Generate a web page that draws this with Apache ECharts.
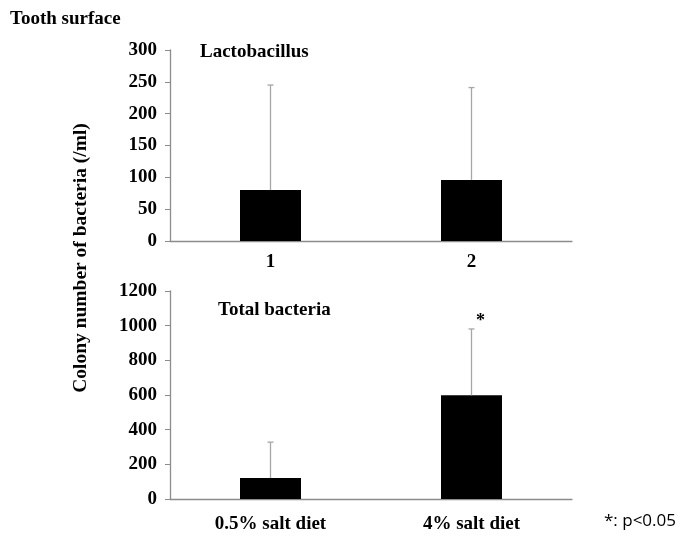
<!DOCTYPE html>
<html>
<head>
<meta charset="utf-8">
<script src="https://cdn.jsdelivr.net/npm/echarts@6/dist/echarts.min.js"></script>
<style>html,body{margin:0;padding:0;background:#fff}#c{width:681px;height:540px}</style>
</head>
<body>
<div id="c"></div>
<script>
// ---- data ----
var topCategories = ['1', '2'];
var topMeans = [80, 96];
var topSD = [165, 145];
var topTicks = [0, 50, 100, 150, 200, 250, 300];

var bottomCategories = ['0.5% salt diet', '4% salt diet'];
var bottomMeans = [121, 598];
var bottomSD = [207, 383];
var bottomSig = ['', '*'];
var bottomTicks = [0, 200, 400, 600, 800, 1000, 1200];

var topTitle = 'Lactobacillus';
var bottomTitle = 'Total bacteria';
var figTitle = 'Tooth surface';
var yName = 'Colony number of bacteria (/ml)';
var note = '*: p<0.05';

// ---- styles ----
var serif = '"Liberation Serif", "Times New Roman", serif';
var axisGray = '#8c8c8c';
var errGray = '#a6a6a6';

function errorRender(means, sds, sig) {
  return function (params, api) {
    var i = api.value(0);
    var m = means[i], s = sds[i];
    var p0 = api.coord([i, m]);
    var p1 = api.coord([i, m + s]);
    var children = [
      { type: 'line', shape: { x1: p0[0], y1: p0[1], x2: p1[0], y2: p1[1] }, style: { stroke: errGray, lineWidth: 1.3 } },
      { type: 'line', shape: { x1: p1[0] - 3, y1: p1[1], x2: p1[0] + 3, y2: p1[1] }, style: { stroke: errGray, lineWidth: 1.3 } }
    ];
    if (sig && sig[i]) {
      children.push({ type: 'text', x: p1[0] + 9, y: p1[1] - 8, style: { text: sig[i], font: 'bold 18px ' + serif, fill: '#000', align: 'center', verticalAlign: 'middle' } });
    }
    return { type: 'group', children: children };
  };
}

function yAxisCfg(idx, ticks) {
  return {
    type: 'value', gridIndex: idx, min: ticks[0], max: ticks[ticks.length - 1], interval: ticks[1] - ticks[0],
    axisLine: { show: true, lineStyle: { color: axisGray, width: 1.3 } },
    axisTick: { show: true, length: 5, lineStyle: { color: axisGray } },
    splitLine: { show: false },
    axisLabel: { color: '#000', fontFamily: serif, fontWeight: 'bold', fontSize: 19, margin: 13, formatter: function (v) { return String(v); } }
  };
}
function xAxisCfg(idx, cats, margin) {
  return {
    type: 'category', gridIndex: idx, data: cats,
    axisLine: { show: true, lineStyle: { color: axisGray, width: 1.3 } },
    axisTick: { show: false },
    axisLabel: { color: '#000', fontFamily: serif, fontWeight: 'bold', fontSize: 19, margin: margin }
  };
}

var chart = echarts.init(document.getElementById('c'), null, { renderer: 'canvas' });
chart.setOption({
  animation: false,
  backgroundColor: '#fff',
  grid: [
    { left: 170, width: 402, top: 50, height: 191 },
    { left: 170, width: 402, top: 291, height: 208 }
  ],
  xAxis: [xAxisCfg(0, topCategories, 12), xAxisCfg(1, bottomCategories, 16)],
  yAxis: [yAxisCfg(0, topTicks), yAxisCfg(1, bottomTicks)],
  series: [
    { type: 'bar', xAxisIndex: 0, yAxisIndex: 0, data: topMeans, barWidth: 61, itemStyle: { color: '#000' } },
    { type: 'custom', xAxisIndex: 0, yAxisIndex: 0, data: topMeans.map(function (v, i) { return [i, v + topSD[i]]; }), renderItem: errorRender(topMeans, topSD, null), z: 3 },
    { type: 'bar', xAxisIndex: 1, yAxisIndex: 1, data: bottomMeans, barWidth: 61, itemStyle: { color: '#000' } },
    { type: 'custom', xAxisIndex: 1, yAxisIndex: 1, data: bottomMeans.map(function (v, i) { return [i, v + bottomSD[i]]; }), renderItem: errorRender(bottomMeans, bottomSD, bottomSig), z: 3 }
  ],
  graphic: [
    { type: 'text', left: 10, top: 10, style: { text: figTitle, font: 'bold 19px ' + serif, fill: '#000' } },
    { type: 'text', left: 200, top: 43, style: { text: topTitle, font: 'bold 19px ' + serif, fill: '#000' } },
    { type: 'text', left: 218, top: 301, style: { text: bottomTitle, font: 'bold 19px ' + serif, fill: '#000' } },
    { type: 'text', x: 81, y: 258, rotation: Math.PI / 2, style: { text: yName, font: 'bold 19.5px ' + serif, fill: '#000', align: 'center', verticalAlign: 'middle' } },
    { type: 'text', left: 604, top: 513, style: { text: note, font: '17px "Open Sans", "Noto Sans", sans-serif', fill: '#000' } }
  ]
});
</script>
</body>
</html>
